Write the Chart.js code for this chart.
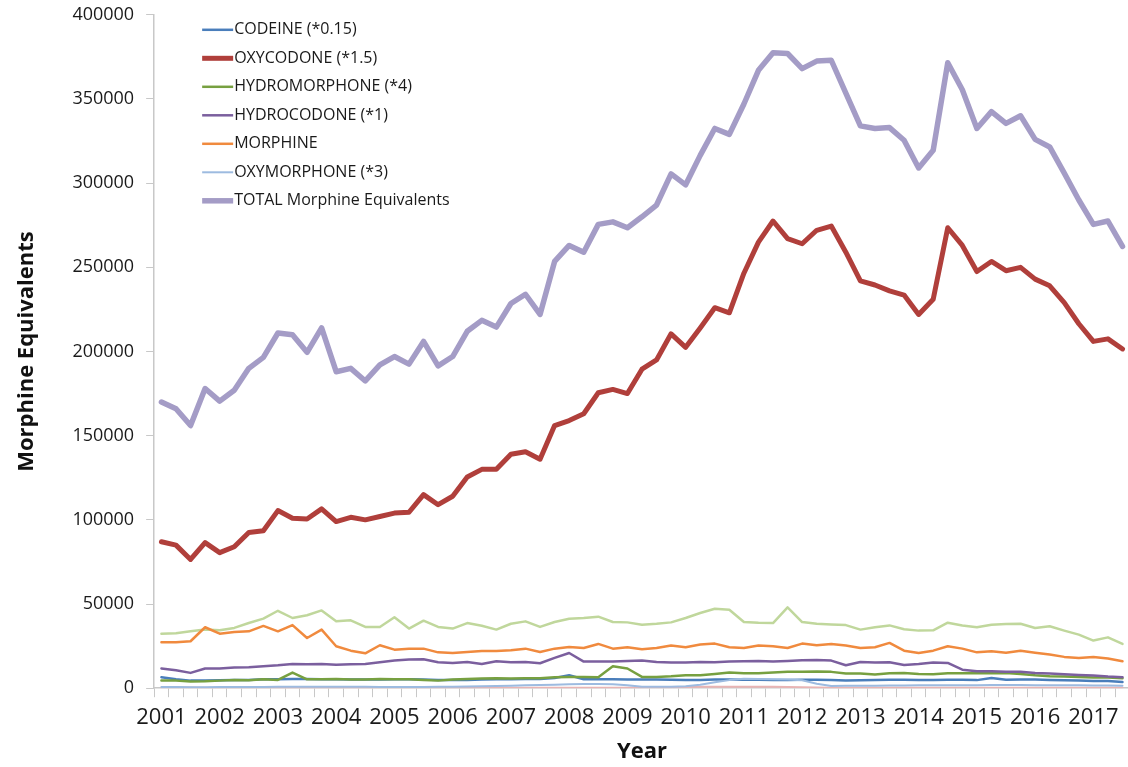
<!DOCTYPE html>
<html>
<head>
<meta charset="utf-8">
<script src="https://cdn.jsdelivr.net/npm/chart.js@4.4.1/dist/chart.umd.min.js"></script>
<style>
  html, body { margin: 0; padding: 0; background: #fff; overflow: hidden; }
  #wrap { width: 1130px; height: 775px; margin-top: -8px; }
</style>
</head>
<body>
<div id="wrap"><canvas id="chart" width="1130" height="775"></canvas></div>
<script>
// Quarterly data, 2001 Q1 .. 2017 Q3
const years = [2001, 2002, 2003, 2004, 2005, 2006, 2007, 2008, 2009, 2010, 2011, 2012, 2013, 2014, 2015, 2016, 2017];
const quarters = [];
years.forEach(y => { for (let q = 1; q <= 4; q++) quarters.push(y + ' Q' + q); });
quarters.length = 67;

const codeine = [6500, 5300, 4500, 4500, 4700, 4900, 4900, 5300, 5300, 5500, 5500, 5300, 5300, 5100, 5100, 5100, 5300, 5300, 5100, 4900, 4900, 4900, 5100, 5300, 5300, 5500, 5500, 6100, 7700, 5300, 5300, 5300, 5100,
    5100, 5100, 5000, 4900, 4900, 5100, 5100, 5000, 5000, 4900, 4900, 5000, 5000, 4800, 4600, 4700, 4800, 5000, 5000, 4800, 4900, 5000, 5000, 4800, 6100, 5000, 5100, 5100, 4900, 4700, 4500, 4300, 4300, 3700];

const oxycodone = [87000, 85000, 76500, 86500, 80500, 84000, 92500, 93500, 105500, 101000, 100500, 106500, 99000, 101500, 100000, 102000, 104000, 104500, 115000, 109000, 114000, 125500, 130000, 130000, 139000, 140500, 136000, 156000,
    159000, 163000, 175500, 177500, 175000, 189500, 195000, 210500, 202500, 214000, 226000, 223000, 246500, 265000, 277500, 267000, 264000, 272000, 274500, 259000, 242000, 239500, 236000, 233500, 222000, 231000, 273500, 263000,
    247500, 253500, 248000, 250000, 243000, 239000, 229000, 216500, 206000, 207500, 201500];

const hydromorphone = [4500, 4500, 4000, 4100, 4500, 4900, 4700, 5300, 4900, 9300, 5300, 5300, 5500, 5100, 5100, 5500, 5300, 5300, 4900, 4500, 5100, 5500, 5700, 5900, 5700, 5900, 5900, 6500, 6700, 6700, 6500, 13000, 11700,
    6700, 6700, 7100, 7700, 7700, 8500, 9300, 8900, 8900, 9300, 9700, 9700, 9900, 9700, 8700, 8700, 8100, 8900, 9100, 8500, 8300, 8900, 8900, 8900, 8900, 9100, 8500, 7700, 7100, 6900, 6700, 6300, 6300, 5900];

const hydrocodone = [11700, 10700, 9100, 11700, 11700, 12300, 12400, 13000, 13600, 14400, 14200, 14400, 14000, 14200, 14400, 15400, 16400, 17000, 17200, 15400, 15000, 15600, 14400, 16000, 15400, 15600, 14800, 18000, 20900, 15800, 15800, 15800, 16200,
    16400, 15600, 15200, 15200, 15600, 15400, 15800, 16000, 16200, 15800, 16200, 16600, 16800, 16400, 13600, 15600, 15200, 15400, 13800, 14400, 15200, 15000, 11000, 10100, 10100, 9700, 9700, 9100, 8700, 8300, 7900, 7500, 6900, 6500];

const morphine = [27300, 27300, 27900, 36200, 32400, 33400, 33800, 37000, 33800, 37500, 29800, 34800, 24900, 22300, 20700, 25500, 22900, 23500, 23500, 21300, 20900, 21500, 22100, 22100, 22500, 23500, 21500, 23500, 24500, 23900, 26300, 23500, 24300,
    23100, 23900, 25300, 24300, 25900, 26500, 24300, 23900, 25300, 24900, 23900, 26500, 25500, 26300, 25300, 23900, 24300, 26900, 22300, 20900, 22300, 24900, 23500, 21300, 21900, 21100, 22300, 21100, 20000, 18600, 18000, 18600, 17600, 16000];

const oxymorphone = [700, 700, 600, 600, 700, 700, 700, 700, 800, 800, 800, 800, 800, 800, 800, 700, 700, 700, 700, 800, 900, 1000, 1100, 1300, 1500, 1700, 1900, 2100, 2400, 2500, 2500, 2300, 1800,
    800, 800, 900, 1100, 2000, 3500, 4800, 5600, 5500, 5300, 5200, 4700, 2600, 1300, 1400, 1500, 1500, 1600, 1600, 1700, 1700, 1800, 1800, 1800, 1900, 1900, 1900, 1800, 1800, 1700, 1700, 1600, 1600, 1500];

// two extra series drawn in the chart but not named in its legend
const series8 = [32400, 32600, 33800, 34800, 34400, 35800, 38700, 41300, 46000, 41700, 43300, 46200, 39700, 40300, 36400, 36400, 42100, 35400, 40100, 36400, 35400, 38700, 37100, 34800, 38300, 39700, 36400, 39300, 41300, 41700, 42500, 39300, 39100,
    37700, 38300, 39100, 41700, 44700, 47200, 46600, 39300, 38900, 38700, 48000, 39300, 38300, 37900, 37500, 34800, 36200, 37300, 35000, 34200, 34400, 38900, 37300, 36200, 37700, 38100, 38300, 35800, 36800, 34200, 31800, 28300, 30200, 26300];

const series9 = [400, 400, 400, 300, 300, 300, 300, 300, 300, 300, 300, 300, 300, 300, 300, 300, 300, 300, 300, 300, 300, 300, 300, 300, 300, 300, 300, 300, 300, 300, 300, 300, 300,
    400, 500, 600, 700, 800, 900, 900, 900, 900, 800, 700, 500, 400, 300, 300, 300, 300, 300, 300, 300, 300, 300, 300, 300, 300, 300, 300, 300, 300, 300, 300, 300, 300, 300];

const total = [170000, 166000, 156000, 178000, 170500, 177000, 190000, 196500, 211000, 210000, 199500, 214000, 188000, 190000, 182500, 192000, 197000, 192500, 206000, 191500, 197000, 212000, 218500, 214500, 228500, 234000, 222000, 253500,
    263000, 259000, 275500, 277000, 273500, 280000, 287000, 305500, 299000, 316500, 332500, 329000, 347000, 367000, 377500, 377000, 368000, 372500, 373000, 353500, 334000, 332500, 333000, 325500, 309000, 319500, 371500, 355500,
    332500, 342500, 335500, 340000, 326000, 321500, 306000, 290000, 275500, 277500, 262500];

const legendLabels = ['CODEINE (*0.15)', 'OXYCODONE (*1.5)', 'HYDROMORPHONE (*4)', 'HYDROCODONE (*1)', 'MORPHINE', 'OXYMORPHONE (*3)', 'TOTAL Morphine Equivalents'];

const FONT = "'Open Sans', 'Noto Sans', sans-serif";

function line(label, data, color, width, order) {
    return {
        label: label, data: data, borderColor: color, backgroundColor: color,
        borderWidth: width, pointRadius: 0, pointHoverRadius: 0, tension: 0,
        borderJoinStyle: 'round', borderCapStyle: 'round', order: order
    };
}

// legend drawn inside the plot, top left, like the original
const insideLegend = {
    id: 'insideLegend',
    afterDraw(chart) {
        const ctx = chart.ctx;
        const area = chart.chartArea;
        const x0 = area.left + 48;
        let y = area.top + 15;
        ctx.save();
        ctx.font = '16px ' + FONT;
        ctx.textBaseline = 'middle';
        chart.data.datasets.forEach(ds => {
            if (!legendLabels.includes(ds.label)) return;
            ctx.strokeStyle = ds.borderColor;
            ctx.lineWidth = ds.borderWidth;
            ctx.lineCap = 'butt';
            ctx.beginPath();
            ctx.moveTo(x0, y);
            ctx.lineTo(x0 + 31, y);
            ctx.stroke();
            ctx.fillStyle = '#1a1a1a';
            ctx.fillText(ds.label, x0 + 32, y);
            y += 28.5;
        });
        ctx.restore();
    }
};

const datasets = [
    line('series 8', series8, '#c0d79c', 2.5, 9),
    line('series 9', series9, '#e8b4b4', 2, 8),
    line(legendLabels[0], codeine, '#4a7ebb', 2.5, 7),
    line(legendLabels[1], oxycodone, '#b03f3b', 5, 1),
    line(legendLabels[2], hydromorphone, '#77a040', 2.5, 6),
    line(legendLabels[3], hydrocodone, '#7b5f9e', 2.5, 5),
    line(legendLabels[4], morphine, '#f08a3e', 2.5, 4),
    line(legendLabels[5], oxymorphone, '#9dbbe0', 2, 3),
    line(legendLabels[6], total, '#a49cc6', 5.5, 0)
];
// legend order follows the original listing
datasets.sort((a, b) => {
    const ia = legendLabels.indexOf(a.label), ib = legendLabels.indexOf(b.label);
    return (ia < 0 ? 99 : ia) - (ib < 0 ? 99 : ib);
});

new Chart(document.getElementById('chart'), {
    type: 'line',
    data: { labels: quarters, datasets: datasets },
    options: {
        responsive: false,
        animation: false,
        layout: { padding: { top: 4, right: 0, bottom: 2, left: 12 } },
        plugins: { legend: { display: false }, tooltip: { enabled: false } },
        scales: {
            x: {
                type: 'category',
                offset: true,
                grid: { display: true, drawOnChartArea: false, drawTicks: true, tickLength: 9, offset: true, color: '#c8c8c8' },
                border: { display: true, color: '#c8c8c8', width: 1.5 },
                ticks: {
                    autoSkip: false, maxRotation: 0, minRotation: 0, padding: 7.5,
                    color: '#1a1a1a', font: { family: FONT, size: 22 },
                    callback: (v, i) => i % 4 === 0 ? String(years[i / 4]) : ''
                },
                title: { display: true, text: 'Year', color: '#111', font: { family: FONT, size: 22, weight: 'bold' }, padding: { top: 0, bottom: 0 } }
            },
            y: {
                min: 0, max: 400000,
                grid: { display: true, drawOnChartArea: false, drawTicks: true, tickLength: 8, color: '#c8c8c8' },
                border: { display: true, color: '#c8c8c8', width: 1.5 },
                ticks: { stepSize: 50000, padding: 12, color: '#1a1a1a', font: { family: FONT, size: 18 }, callback: v => String(v) },
                title: { display: true, text: 'Morphine Equivalents', color: '#111', font: { family: FONT, size: 22, weight: 'bold' }, padding: { top: 2, bottom: 20 } }
            }
        }
    },
    plugins: [insideLegend]
});
</script>
</body>
</html>
